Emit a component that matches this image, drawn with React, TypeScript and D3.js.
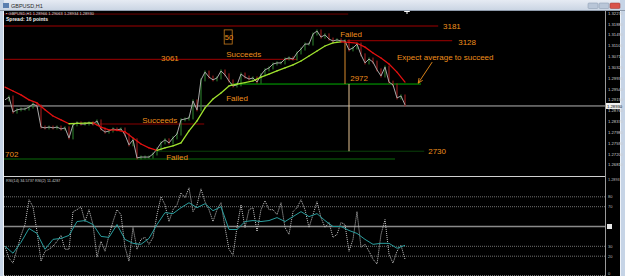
import React from "react";
import * as d3 from "d3";

// ---- data (prices in pips: 2915 => 1.2915) ----
const closes = [2915, 2925, 2871, 2879, 2882, 2882, 2889, 2900, 2893, 2817,
  2814, 2817, 2814, 2817, 2810, 2814, 2778, 2825, 2832, 2828,
  2828, 2832, 2828, 2839, 2810, 2799, 2803, 2810, 2807, 2810,
  2789, 2753, 2771, 2706, 2709, 2709, 2709, 2720, 2738, 2760,
  2771, 2760, 2778, 2792, 2843, 2846, 2850, 2911, 2879, 2987,
  3015, 2997, 2987, 2994, 3019, 3005, 2983, 2965, 2969, 3008,
  2997, 2990, 2994, 2979, 3005, 3023, 3030, 3044, 3048, 3048,
  3062, 3066, 3062, 3084, 3098, 3116, 3116, 3152, 3163, 3141,
  3149, 3134, 3127, 3131, 3127, 3127, 3095, 3102, 3116, 3077,
  3048, 3062, 3051, 3023, 3001, 3033, 2979, 2969, 2922, 2929,
  2897];

// moving average, one value every 2 bars
const maValues = [2961, 2947, 2933, 2915, 2904, 2879, 2857, 2843, 2829, 2830,
  2831, 2832, 2817, 2807, 2806, 2800, 2778, 2756, 2742, 2733,
  2742, 2749, 2760, 2803, 2839, 2886, 2918, 2940, 2965, 2972,
  2977, 2983, 2997, 3008, 3019, 3030, 3041, 3055, 3073, 3091,
  3109, 3120, 3124, 3122, 3119, 3105, 3084, 3066, 3044, 3015,
  2979];

// oscillator: fast (dotted), every bar
const rsiFast = [30, 18, 13, 27, 41, 52, 77, 70, 45, 15,
  25, 27, 30, 35, 41, 27, 27, 65, 67, 70,
  55, 67, 52, 19, 35, 25, 41, 55, 67, 62,
  29, 15, 49, 27, 37, 39, 32, 39, 62, 80,
  72, 55, 67, 72, 84, 79, 89, 65, 72, 88,
  75, 67, 55, 67, 74, 49, 27, 21, 49, 72,
  49, 67, 69, 45, 67, 76, 67, 67, 62, 74,
  49, 42, 65, 69, 77, 67, 49, 62, 75, 59,
  49, 54, 39, 42, 54, 52, 25, 37, 65, 29,
  32, 25, 17, 12, 42, 57, 22, 13, 25, 31,
  17];

// oscillator: slow (teal), every 2 bars
const rsiSlow = [30, 23, 34, 48, 43, 27, 37, 38, 41, 55,
  56, 52, 40, 39, 52, 37, 33, 32, 38, 52,
  64, 63, 69, 74, 69, 73, 66, 70, 47, 47,
  55, 56, 55, 56, 59, 55, 60, 65, 60, 63,
  56, 50, 50, 46, 43, 37, 32, 33, 33, 28,
  31];

const oscLevels = [80, 70, 50, 30, 20, 0];
const oscLevelLabels = ["80", "70", "50", "30", "20", "0"];

const priceTicks = [3227, 3188, 3149, 3110, 3071, 3032, 2993, 2954, 2915, 2876, 2837, 2798, 2759, 2720, 2681];

// horizontal levels: [price, fromBar, toBar]
const levelPrices = [3224, 3181, 3128, 3061, 2972, 2828, 2730, 2702];
const levelFrom = [-0.3, -0.3, 85.5, -0.3, 56.3, 23.8, 38, -0.3];
const levelTo = [85.8, 108.3, 111.8, 73, 104, 49.8, 104.8, 97.5];
const levelColors = ["#6e0000", "#a00000", "#a00000", "#a00000", "#00b000", "#8a0000", "#0a400a", "#0b6a0b"];

const currentPrice = 2893;

// annotation texts: [text, bar, price]
const noteTexts = ["3181", "3128", "3061", "Succeeds", "Failed", "2972", "Expect average to succeed", "Failed", "Succeeds", "702", "Failed", "2730"];
const noteBars = [109.5, 113.3, 39, 55.3, 83.8, 86.3, 98, 55.3, 34.3, 0, 40.3, 105.8];
const notePrices = [3170, 3113, 3055, 3069, 3143, 2983, 3060, 2911, 2832, 2711, 2699, 2720];

const W = 625, H = 276;
const PLOT_L = 4, PLOT_R = 605, AXIS_R = 620;
const OSC_TOP = 176.5;

export default function App() {
  const x = d3.scaleLinear().domain([0, 100]).range([5, 405]);
  const y = d3.scaleLinear().domain([3181, 2702]).range([26, 159]);
  const yo = d3.scaleLinear().domain([0, 100]).range([276, 177]);

  const priceLine = d3.line<number>().x((_, i) => x(i)).y((d) => y(d));
  const maSegs = maValues.slice(1).map((v, i) => ({
    x1: x(i * 2), y1: y(maValues[i]), x2: x(i * 2 + 2), y2: y(v),
    up: v >= maValues[i],
  }));
  const fastLine = d3.line<number>().x((_, i) => x(i)).y((d) => yo(d));
  const slowLine = d3.line<number>().x((_, i) => x(i * 2)).y((d) => yo(d));

  const font = "'Liberation Sans', Arial, sans-serif";
  const orange = "#ef8f1c";

  return (
    <svg width={W} height={H} style={{ position: "absolute", left: 0, top: 0, background: "#000" }}
      xmlns="http://www.w3.org/2000/svg">
      <defs>
        <linearGradient id="tb" x1="0" y1="0" x2="0" y2="1">
          <stop offset="0" stopColor="#e6ebf3" />
          <stop offset="1" stopColor="#c8d3e2" />
        </linearGradient>
        <clipPath id="plot"><rect x={PLOT_L} y={11} width={PLOT_R - PLOT_L} height={OSC_TOP - 11} /></clipPath>
        <clipPath id="osc"><rect x={PLOT_L} y={OSC_TOP} width={PLOT_R - PLOT_L} height={H - OSC_TOP} /></clipPath>
        <marker id="arr" viewBox="0 0 10 10" refX="9" refY="5" markerWidth="6" markerHeight="6" orient="auto">
          <path d="M0,1 L9,5 L0,9" fill="none" stroke={orange} strokeWidth="1.5" />
        </marker>
      </defs>
      <rect x={0} y={0} width={W} height={H} fill="#000" />
      {/* window chrome */}
      <rect x={0} y={0} width={W} height={11} fill="url(#tb)" />
      <rect x={0} y={0} width={PLOT_L} height={H} fill="#c6d4e6" />
      <line x1={3.5} y1={11} x2={3.5} y2={H} stroke="#eef2f8" />
      <rect x={AXIS_R} y={0} width={W - AXIS_R} height={H} fill="#c6d4e6" />
      <line x1={AXIS_R + 0.5} y1={11} x2={AXIS_R + 0.5} y2={H} stroke="#eef2f8" />
      <rect x={3} y={3} width={6} height={5} fill="#5a7fb0" />
      <text x={11} y={8} fontSize={5.5} fill="#2a2a2a" fontFamily={font}>GBPUSD,H1</text>
      <rect x={588} y={3} width={10} height={5.5} rx={1} fill="#b9c6d8" stroke="#8797ad" strokeWidth={0.5} />
      <rect x={599} y={3} width={10} height={5.5} rx={1} fill="#b9c6d8" stroke="#8797ad" strokeWidth={0.5} />
      <rect x={610} y={3} width={10} height={5.5} rx={1} fill="#d9534a" stroke="#9a3530" strokeWidth={0.5} />
      <line x1={0} y1={10.5} x2={W} y2={10.5} stroke="#8f9bab" strokeWidth={1} />

      {/* price axis */}
      <line x1={PLOT_R + 0.5} y1={11} x2={PLOT_R + 0.5} y2={H} stroke="#9a9a9a" />
      {priceTicks.map((p) => (
        <text key={p} x={608} y={y(p) + 1.6} fontSize={4.2} fill="#cfcfcf" fontFamily={font}>{"1." + p + "0"}</text>
      ))}

      <g clipPath="url(#plot)">
        {levelPrices.map((p, i) => (
          <line key={"lv" + i} x1={x(levelFrom[i])} x2={x(levelTo[i])} y1={y(p)} y2={y(p)}
            stroke={levelColors[i]} strokeWidth={1} />
        ))}
        <line x1={PLOT_L} x2={PLOT_R} y1={y(currentPrice)} y2={y(currentPrice)} stroke="#b4b4b4" strokeWidth={1} />
        {/* vertical markers */}
        <line x1={x(85)} x2={x(85)} y1={y(3131)} y2={y(2972)} stroke="#d98a2c" strokeWidth={1} />
        <line x1={x(86)} x2={x(86)} y1={y(2972)} y2={y(2730)} stroke="#e6c493" strokeWidth={1} />
        {/* price candles texture */}
        {closes.slice(1).map((c, i) => (
          <line key={"w" + i} x1={x(i + 1)} x2={x(i + 1)}
            y1={y(Math.max(c, closes[i])) - 1.5} y2={y(Math.min(c, closes[i])) + 1.5}
            stroke={c >= closes[i] ? "#2f8a2f" : "#b02020"} strokeWidth={1} />
        ))}
        <path d={priceLine(closes) || ""} fill="none" stroke="#a9a9a9" strokeWidth={1} />
        {maSegs.map((s, i) => (
          <line key={"ma" + i} x1={s.x1} y1={s.y1} x2={s.x2} y2={s.y2}
            stroke={s.up ? "#9fe22e" : "#e31010"} strokeWidth={1.3} strokeLinecap="round" />
        ))}
        {/* annotations */}
        {noteTexts.map((t, i) => (
          <text key={"n" + i} x={x(noteBars[i])} y={y(notePrices[i])} fontSize={8}
            fill={orange} fontFamily={font}>{t}</text>
        ))}
        <rect x={x(54.8)} y={y(3167)} width={x(56.8) - x(54.8)} height={y(3116) - y(3167)}
          fill="none" stroke="#c77a1c" strokeWidth={0.8} />
        <text x={x(54.95)} y={y(3130)} fontSize={7.5} fill={orange} fontFamily={font}>50</text>
        <line x1={x(106.8)} y1={y(3051)} x2={x(103.3)} y2={y(2975)} stroke={orange} strokeWidth={0.9}
          markerEnd="url(#arr)" />
        <line x1={x(100.5)} x2={x(100.5)} y1={11.5} y2={14} stroke="#fff" strokeWidth={1} />
        <line x1={x(99.8)} x2={x(101.2)} y1={11.5} y2={11.5} stroke="#fff" strokeWidth={1} />
      </g>
      <text x={6} y={15} fontSize={4} fill="#dcdcdc" fontFamily={font}>▪ GBPUSD,H1  1.28966 1.29063 1.28934 1.28930</text>
      <text x={6} y={20.5} fontSize={5} fontWeight="bold" fill="#f0f0f0" fontFamily={font}>Spread: 16 points</text>

      {/* current price box */}
      <rect x={606} y={y(currentPrice) - 3} width={14} height={6} fill="#f2f2f2" />
      <text x={607} y={y(currentPrice) + 1.6} fontSize={4.2} fill="#000" fontFamily={font}>1.28930</text>

      {/* oscillator panel */}
      <line x1={PLOT_L} x2={PLOT_R} y1={OSC_TOP} y2={OSC_TOP} stroke="#d0d0d0" strokeWidth={1} />
      <text x={6} y={182} fontSize={3.8} fill="#c8c8c8" fontFamily={font}>RSI(14) 34.5737  RSI(2) 11.4287</text>
      {oscLevels.map((v, i) => (
        <line key={"ol" + i} x1={PLOT_L} x2={PLOT_R} y1={yo(v) - (v === 0 ? 0.5 : 0)} y2={yo(v) - (v === 0 ? 0.5 : 0)}
          stroke={v === 50 ? "#8a8a8a" : "#707070"} strokeWidth={v === 50 ? 1.5 : 1}
          strokeDasharray={v === 50 ? undefined : "1,1"} />
      ))}
      {oscLevels.map((v, i) => (
        v === 50 ? (
          <g key={"olt" + i}>
            <rect x={607} y={yo(v) - 2.5} width={5} height={5} fill="#e8e8e8" />
          </g>
        ) : (
          <text key={"olt" + i} x={608} y={Math.min(yo(v) + 1.5, 274.5)} fontSize={4} fill="#bdbdbd" fontFamily={font}>{oscLevelLabels[i]}</text>
        )
      ))}
      <text x={608} y={180.5} fontSize={3.8} fill="#bdbdbd" fontFamily={font}>1.2893</text>
      <g clipPath="url(#osc)">
        <path d={fastLine(rsiFast) || ""} fill="none" stroke="#c4c4c4" strokeWidth={1} strokeDasharray="1,1" />
        <path d={slowLine(rsiSlow) || ""} fill="none" stroke="#2a9d9d" strokeWidth={1} />
      </g>
    </svg>
  );
}
